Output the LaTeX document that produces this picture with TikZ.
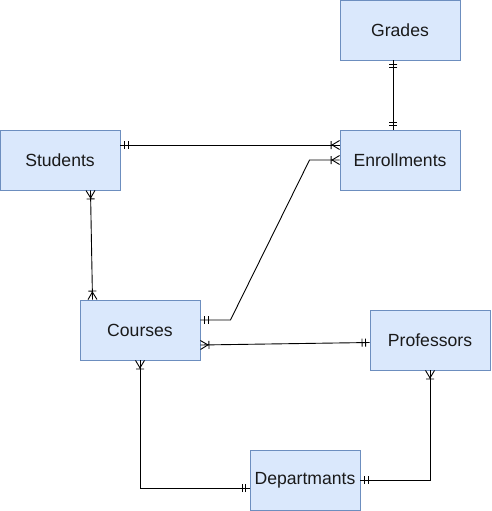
\documentclass[tikz,border=0pt]{standalone}
\usepackage{fontspec}
\setmainfont{Liberation Sans}
\usetikzlibrary{arrows.meta}
\definecolor{boxfill}{HTML}{DAE8FC}
\definecolor{boxdraw}{HTML}{6C8EBF}
\definecolor{txt}{HTML}{1A1A1A}
\pgfdeclarearrow{
  name = ERmone,
  setup code = {
    \pgfarrowssettipend{0pt}
    \pgfarrowssetlineend{0pt}
    \pgfarrowssetbackend{-9pt}
    \pgfarrowssetvisualbackend{-9pt}
    \pgfarrowshullpoint{0pt}{4pt}
    \pgfarrowshullpoint{0pt}{-4pt}
    \pgfarrowshullpoint{-9pt}{4pt}
    \pgfarrowshullpoint{-9pt}{-4pt}
  },
  drawing code = {
    \pgfsetdash{}{0pt}
    \pgfpathmoveto{\pgfqpoint{-4pt}{-4pt}}\pgfpathlineto{\pgfqpoint{-4pt}{4pt}}
    \pgfpathmoveto{\pgfqpoint{-7.5pt}{-4pt}}\pgfpathlineto{\pgfqpoint{-7.5pt}{4pt}}
    \pgfusepathqstroke
  }
}
\pgfdeclarearrow{
  name = ERmany,
  setup code = {
    \pgfarrowssettipend{0pt}
    \pgfarrowssetlineend{0pt}
    \pgfarrowssetbackend{-10pt}
    \pgfarrowssetvisualbackend{-10pt}
    \pgfarrowshullpoint{0pt}{4.5pt}
    \pgfarrowshullpoint{0pt}{-4.5pt}
    \pgfarrowshullpoint{-10pt}{4pt}
    \pgfarrowshullpoint{-10pt}{-4pt}
  },
  drawing code = {
    \pgfsetdash{}{0pt}
    \pgfpathmoveto{\pgfqpoint{0pt}{4.5pt}}\pgfpathlineto{\pgfqpoint{-7.5pt}{0pt}}
    \pgfpathlineto{\pgfqpoint{0pt}{-4.5pt}}
    \pgfpathmoveto{\pgfqpoint{-8.5pt}{-4pt}}\pgfpathlineto{\pgfqpoint{-8.5pt}{4pt}}
    \pgfusepathqstroke
  }
}
\tikzset{
  entity/.style={draw=boxdraw, fill=boxfill, line width=0.9pt, minimum width=120pt,
    minimum height=60pt, inner sep=0pt, text=txt,
    font=\fontsize{17.6}{20}\selectfont},
  rel/.style={draw=black, line width=0.9pt}
}
\begin{document}
\begin{tikzpicture}[x=1pt,y=-1pt]
\useasboundingbox (0,0) rectangle (491,511);
\node[entity] (G) at (400,30) {Grades};
\node[entity] (S) at (60,160) {Students};
\node[entity] (E) at (400,160) {Enrollments};
\node[entity] (C) at (140,330) {Courses};
\node[entity] (P) at (430,340) {Professors};
\node[entity, minimum width=110pt] (D) at (305,480) {Departmants};
\draw[rel, ERmone-ERmone] ([xshift=-6.7]G.south) -- ([xshift=-6.7]E.north);
\draw[rel, ERmone-ERmany] ([yshift=15]S.east) -- ([yshift=15]E.west);
\draw[rel, ERmone-ERmany] ([yshift=10]C.east) -- ++(30,0) -- ([xshift=-30]E.west) -- (E.west);
\draw[rel, ERmany-ERmany] ([xshift=30.5]S.south) -- ([xshift=-47.5]C.north);
\draw[rel, ERmany-ERmone] ([yshift=-15]C.east) -- ([yshift=-2.5]P.west);
\draw[rel, ERmany-ERmone] (C.south) |- ([yshift=-8]D.west);
\draw[rel, ERmone-ERmany] (D.east) -| (P.south);
\end{tikzpicture}
\end{document}
